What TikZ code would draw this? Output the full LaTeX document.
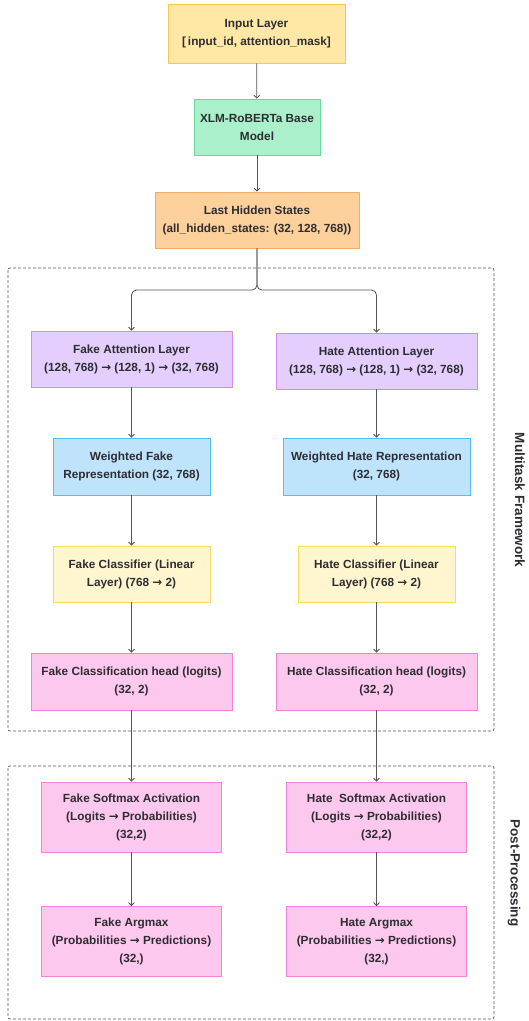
\documentclass[tikz,border=0pt]{standalone}
\usepackage{fontspec}
\setmainfont{Liberation Sans}
\newfontfamily\arrowfont{DejaVu Sans}
\newcommand{\ra}{{\arrowfont\bfseries →}}
\usetikzlibrary{arrows.meta,positioning}

\definecolor{txt}{RGB}{45,45,50}
\definecolor{arr}{RGB}{85,85,85}
\definecolor{inF}{RGB}{255,232,165}   \definecolor{inD}{RGB}{246,200,85}
\definecolor{xlF}{RGB}{170,240,202}   \definecolor{xlD}{RGB}{105,215,160}
\definecolor{hsF}{RGB}{251,208,155}   \definecolor{hsD}{RGB}{242,172,100}
\definecolor{atF}{RGB}{228,206,253}   \definecolor{atD}{RGB}{208,140,245}
\definecolor{wtF}{RGB}{190,227,251}   \definecolor{wtD}{RGB}{80,192,245}
\definecolor{clF}{RGB}{255,246,208}   \definecolor{clD}{RGB}{245,222,95}
\definecolor{pkF}{RGB}{253,200,238}   \definecolor{pkD}{RGB}{245,130,215}

\tikzset{
  box/.style={draw, line width=0.8pt, align=center, inner sep=0pt, text=txt,
              font=\bfseries\fontsize{11.8}{18}\selectfont},
  inputbox/.style={box, fill=inF, draw=inD},
  modelbox/.style={box, fill=xlF, draw=xlD},
  statebox/.style={box, fill=hsF, draw=hsD},
  attnbox/.style={box, fill=atF, draw=atD, minimum width=201pt, minimum height=56pt},
  wtbox/.style={box, fill=wtF, draw=wtD, minimum height=57pt},
  clsbox/.style={box, fill=clF, draw=clD, minimum width=157pt, minimum height=56pt},
  headbox/.style={box, fill=pkF, draw=pkD, minimum width=201pt, minimum height=57pt},
  postbox/.style={box, fill=pkF, draw=pkD, minimum width=180pt, minimum height=70pt},
  link/.style={draw=arr, line width=0.8pt, -{Straight Barb[length=3pt,width=6pt]}},
  group/.style={draw=arr, line width=0.7pt, dash pattern=on 3pt off 2pt, rounded corners=2pt},
  grouplabel/.style={rotate=-90, text=txt, font=\bfseries\fontsize{13.5}{16}\selectfont}
}

\begin{document}
\begin{tikzpicture}[x=1pt,y=-1pt]
\useasboundingbox (0,0) rectangle (529,1021);

% shared trunk
\node[inputbox, minimum width=177pt, minimum height=59pt] (input) at (256.5,33.5)
  {Input Layer\\{[}\,input\_id, attention\_mask{]}};
\node[modelbox, minimum width=126pt, minimum height=56pt] (xlmr) at (257,127)
  {XLM-RoBERTa Base\\Model};
\node[statebox, minimum width=204pt, minimum height=56pt] (hidden) at (257,220)
  {Last Hidden States\\(all\_hidden\_states: (32, 128, 768))};
\draw[link] (input) -- (xlmr);
\draw[link] (xlmr) -- (hidden);

% task groups
\draw[group] (8,268) rectangle (494,731);
\draw[group] (8,766) rectangle (494,1019);
\node[grouplabel] (mtlabel) at (520,500) {Multitask Framework};
\node[grouplabel] (pplabel) at (514,873) {Post-Processing};

% fake branch
\node[attnbox] (fattn) at (131.5,359) {Fake Attention Layer\\(128, 768) \ra{} (128, 1) \ra{} (32, 768)};
\node[wtbox, minimum width=157pt] (fwt) at (131.5,466.5) {Weighted Fake\\Representation (32, 768)};
\node[clsbox] (fcls) at (131.5,574) {Fake Classifier (Linear\\Layer) (768 \ra{} 2)};
\node[headbox] (fhead) at (131.5,681.5) {Fake Classification head (logits)\\(32, 2)};
\node[postbox] (fsoft) at (131.5,817) {Fake Softmax Activation\\(Logits \ra{} Probabilities)\\(32,2)};
\node[postbox] (fargmax) at (131.5,941.5) {Fake Argmax\\(Probabilities \ra{} Predictions)\\(32,)};

% hate branch
\node[attnbox] (hattn) at (376.5,361) {Hate Attention Layer\\(128, 768) \ra{} (128, 1) \ra{} (32, 768)};
\node[wtbox, minimum width=187pt] (hwt) at (376.5,466.5) {Weighted Hate Representation\\(32, 768)};
\node[clsbox] (hcls) at (376.5,574) {Hate Classifier (Linear\\Layer) (768 \ra{} 2)};
\node[headbox] (hhead) at (376.5,681.5) {Hate Classification head (logits)\\(32, 2)};
\node[postbox] (hsoft) at (376.5,817) {Hate~ Softmax Activation\\(Logits \ra{} Probabilities)\\(32,2)};
\node[postbox] (hargmax) at (376.5,941.5) {Hate Argmax\\(Probabilities \ra{} Predictions)\\(32,)};

% split into the two heads
\coordinate (split) at (257,290);
\draw[link, rounded corners=5pt] (hidden.south) -- (split) -| (fattn.north);
\draw[link, rounded corners=5pt] (hidden.south) -- (split) -| (hattn.north);

\foreach \a/\b in {fattn/fwt, fwt/fcls, fcls/fhead, fhead/fsoft, fsoft/fargmax,
                   hattn/hwt, hwt/hcls, hcls/hhead, hhead/hsoft, hsoft/hargmax}
  \draw[link] (\a) -- (\b);
\end{tikzpicture}
\end{document}
